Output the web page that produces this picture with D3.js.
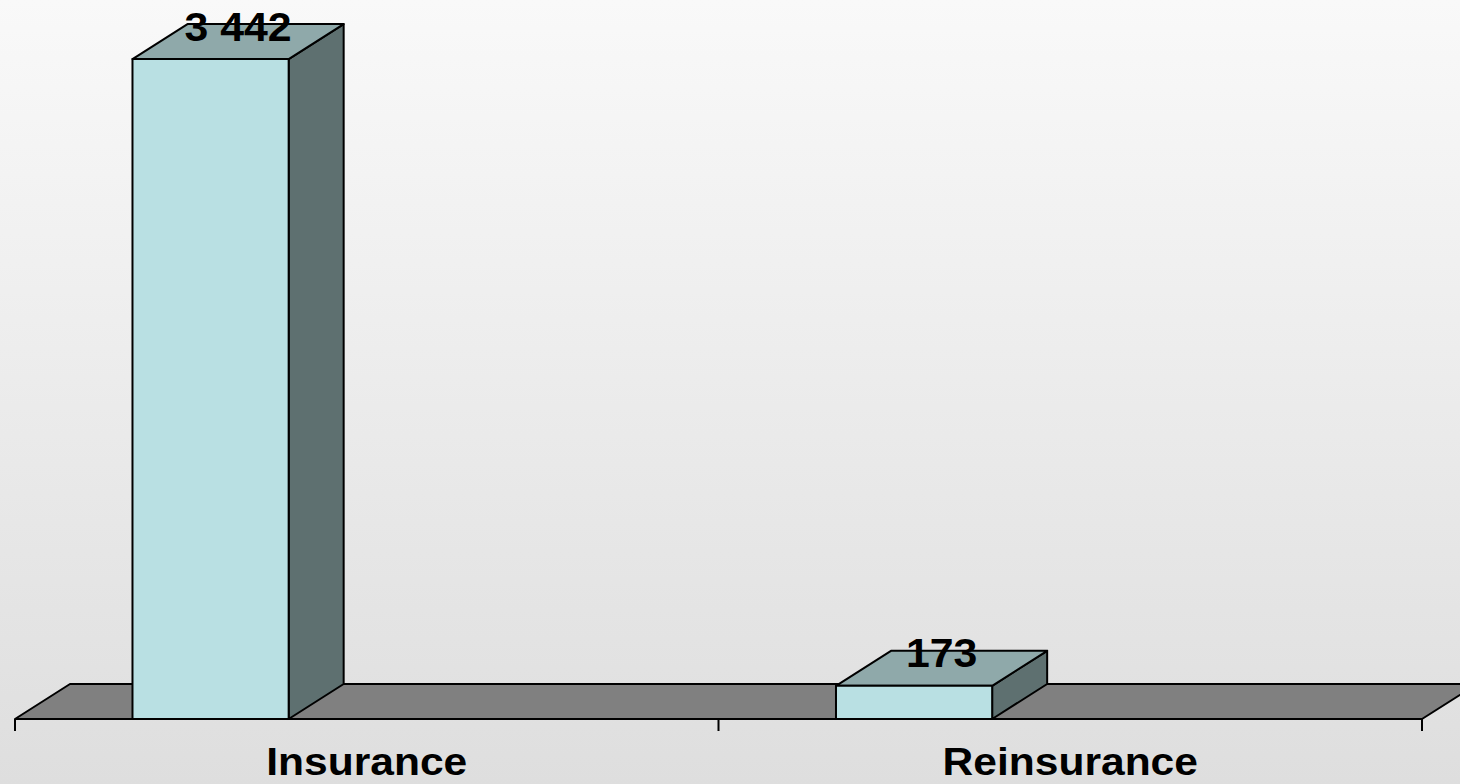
<!DOCTYPE html>
<html lang="en">
<head>
<meta charset="utf-8">
<title>insurance vs reinsurance</title>
<script src="https://d3js.org/d3.v7.min.js"></script>
<style>
html,body {height:100%; padding:0; margin:0; overflow:hidden;}
svg {display:block;}
</style>
</head>
<body>
<script>
var categories = ['Insurance', 'Reinsurance']
var values = [3442, 173]

function main() {
  let width = 1460
  let height = 784
  let base = 719
  let depth = {x: 55, y: -35}

  let svg = d3.select('body').append('svg')
              .attr('width', width)
              .attr('height', height)

  let grad = svg.append('defs').append('linearGradient')
                .attr('id', 'bg').attr('x1', 0).attr('y1', 0).attr('x2', 0).attr('y2', 1)
  grad.append('stop').attr('offset', '0%').attr('stop-color', '#f9f9f9')
  grad.append('stop').attr('offset', '100%').attr('stop-color', '#dedede')
  svg.append('rect').attr('width', width).attr('height', height).attr('fill', 'url(#bg)')

  let xScale = d3.scaleBand().domain(categories).range([15, 1422]).padding(0)
  let bw = xScale.bandwidth()
  let yScale = d3.scaleLinear().domain([0, 3500]).range([base, base - 671])

  //floor
  let x0 = xScale.range()[0], x1 = xScale.range()[1]
  svg.append('polygon')
     .attr('points', [[x0, base], [x0 + depth.x, base + depth.y], [x1 + depth.x, base + depth.y], [x1, base]].join(' '))
     .attr('fill', '#808080')
     .attr('stroke', '#000')
     .attr('stroke-width', 2)
     .attr('stroke-linejoin', 'round')

  //axis line + ticks
  let tickX = categories.map(function(c) { return xScale(c) }).concat([x1])
  svg.append('line').attr('x1', x0).attr('x2', x1).attr('y1', base).attr('y2', base)
     .attr('stroke', '#000').attr('stroke-width', 2)
  svg.selectAll('.tick').data(tickX).enter().append('line')
     .attr('x1', function(d) { return d }).attr('x2', function(d) { return d })
     .attr('y1', base).attr('y2', base + 12)
     .attr('stroke', '#000').attr('stroke-width', 2)

  //bars
  let fmt = d3.formatLocale({decimal: ',', thousands: ' ', grouping: [3], currency: ['', '']}).format(',d')
  let bars = svg.selectAll('.bar').data(categories).enter().append('g')
  bars.each(function(c, i) {
    let g = d3.select(this)
    let bx = xScale(c) + bw * 0.167
    let bwid = bw * 0.222
    let top = yScale(values[i])
    let dx = depth.x, dy = depth.y
    let st = function(sel, fill) {
      return sel.attr('fill', fill).attr('stroke', '#000').attr('stroke-width', 2).attr('stroke-linejoin', 'round')
    }
    st(g.append('polygon').attr('points', [[bx + bwid, top], [bx + bwid + dx, top + dy], [bx + bwid + dx, base + dy], [bx + bwid, base]].join(' ')), '#5e7070')
    st(g.append('polygon').attr('points', [[bx, top], [bx + dx, top + dy], [bx + bwid + dx, top + dy], [bx + bwid, top]].join(' ')), '#8fa9aa')
    st(g.append('rect').attr('x', bx).attr('y', top).attr('width', bwid).attr('height', base - top), '#b9e0e3')

    let lx = bx + bwid / 2 + dx / 2
    let ly = top + dy / 2 - 1
    g.append('text')
     .attr('transform', 'translate(' + lx + ',' + ly + ') scale(1.07,1)')
     .attr('text-anchor', 'middle')
     .attr('font-family', 'Liberation Sans, Arial, sans-serif')
     .attr('font-weight', 'bold')
     .attr('font-size', 40)
     .attr('fill', '#000')
     .text(fmt(values[i]))
  })

  //category labels
  svg.selectAll('.cat').data(categories).enter().append('text')
     .attr('transform', function(c) { return 'translate(' + (xScale(c) + bw / 2) + ',775) scale(1.12,1)' })
     .attr('text-anchor', 'middle')
     .attr('font-family', 'Liberation Sans, Arial, sans-serif')
     .attr('font-weight', 'bold')
     .attr('font-size', 38)
     .attr('fill', '#000')
     .text(function(c) { return c })
}

main()
</script>
</body>
</html>
